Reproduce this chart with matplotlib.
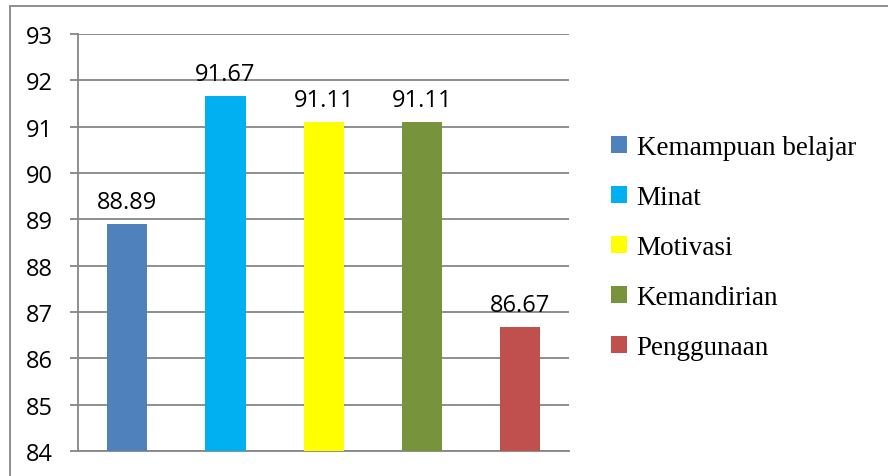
import matplotlib.pyplot as plt
from matplotlib.patches import Patch, Rectangle

# Scores per aspect
categories = ["Kemampuan belajar", "Minat", "Motivasi", "Kemandirian", "Penggunaan"]
values = [88.89, 91.67, 91.11, 91.11, 86.67]
colors = ["#4F81BD", "#00B0F0", "#FFFF00", "#77933C", "#C0504D"]
y_ticks = [84, 85, 86, 87, 88, 89, 90, 91, 92, 93]

grid_color = "#868686"

fig = plt.figure(figsize=(8.88, 4.77), dpi=100)
ax = fig.add_axes([0.0878, 0.0524, 0.5535, 0.8742])

x = range(len(categories))
bars = ax.bar(x, values, width=0.41, color=colors, zorder=3)

for xi, v in zip(x, values):
    ax.annotate(f"{v:.2f}", (xi, v), xytext=(0, 11.5), textcoords="offset points",
                ha="center", va="baseline", fontsize=17, family="Open Sans")

ax.set_xlim(-0.5, len(categories) - 0.5)
ax.set_ylim(84, 93)
ax.set_yticks(y_ticks)
ax.set_xticks([])
ax.yaxis.grid(True, color=grid_color, linewidth=1.3, zorder=0)
ax.tick_params(axis="y", direction="out", length=6, width=1.3, color=grid_color,
               pad=12, labelsize=17)
for lbl in ax.get_yticklabels():
    lbl.set_family("Open Sans")

for side in ["top", "right"]:
    ax.spines[side].set_visible(False)
for side in ["left", "bottom"]:
    ax.spines[side].set_color(grid_color)
    ax.spines[side].set_linewidth(1.3)

handles = [Patch(facecolor=c, edgecolor="none") for c in colors]
fig.legend(handles, categories, loc="upper left", bbox_to_anchor=(0.6876, 0.714),
           frameon=False, prop={"family": "Liberation Serif", "size": 19.5},
           handlelength=0.6, handleheight=0.58, handletextpad=0.36,
           labelspacing=0.92, borderpad=0, borderaxespad=0)

# chart area outline
fig.patches.append(Rectangle((10 / 888, -0.1), 1.2, 1 - 7 / 477 + 0.1,
                             transform=fig.transFigure, fill=False,
                             edgecolor=grid_color, linewidth=1.3))

fig.savefig("out.png", dpi=100)
